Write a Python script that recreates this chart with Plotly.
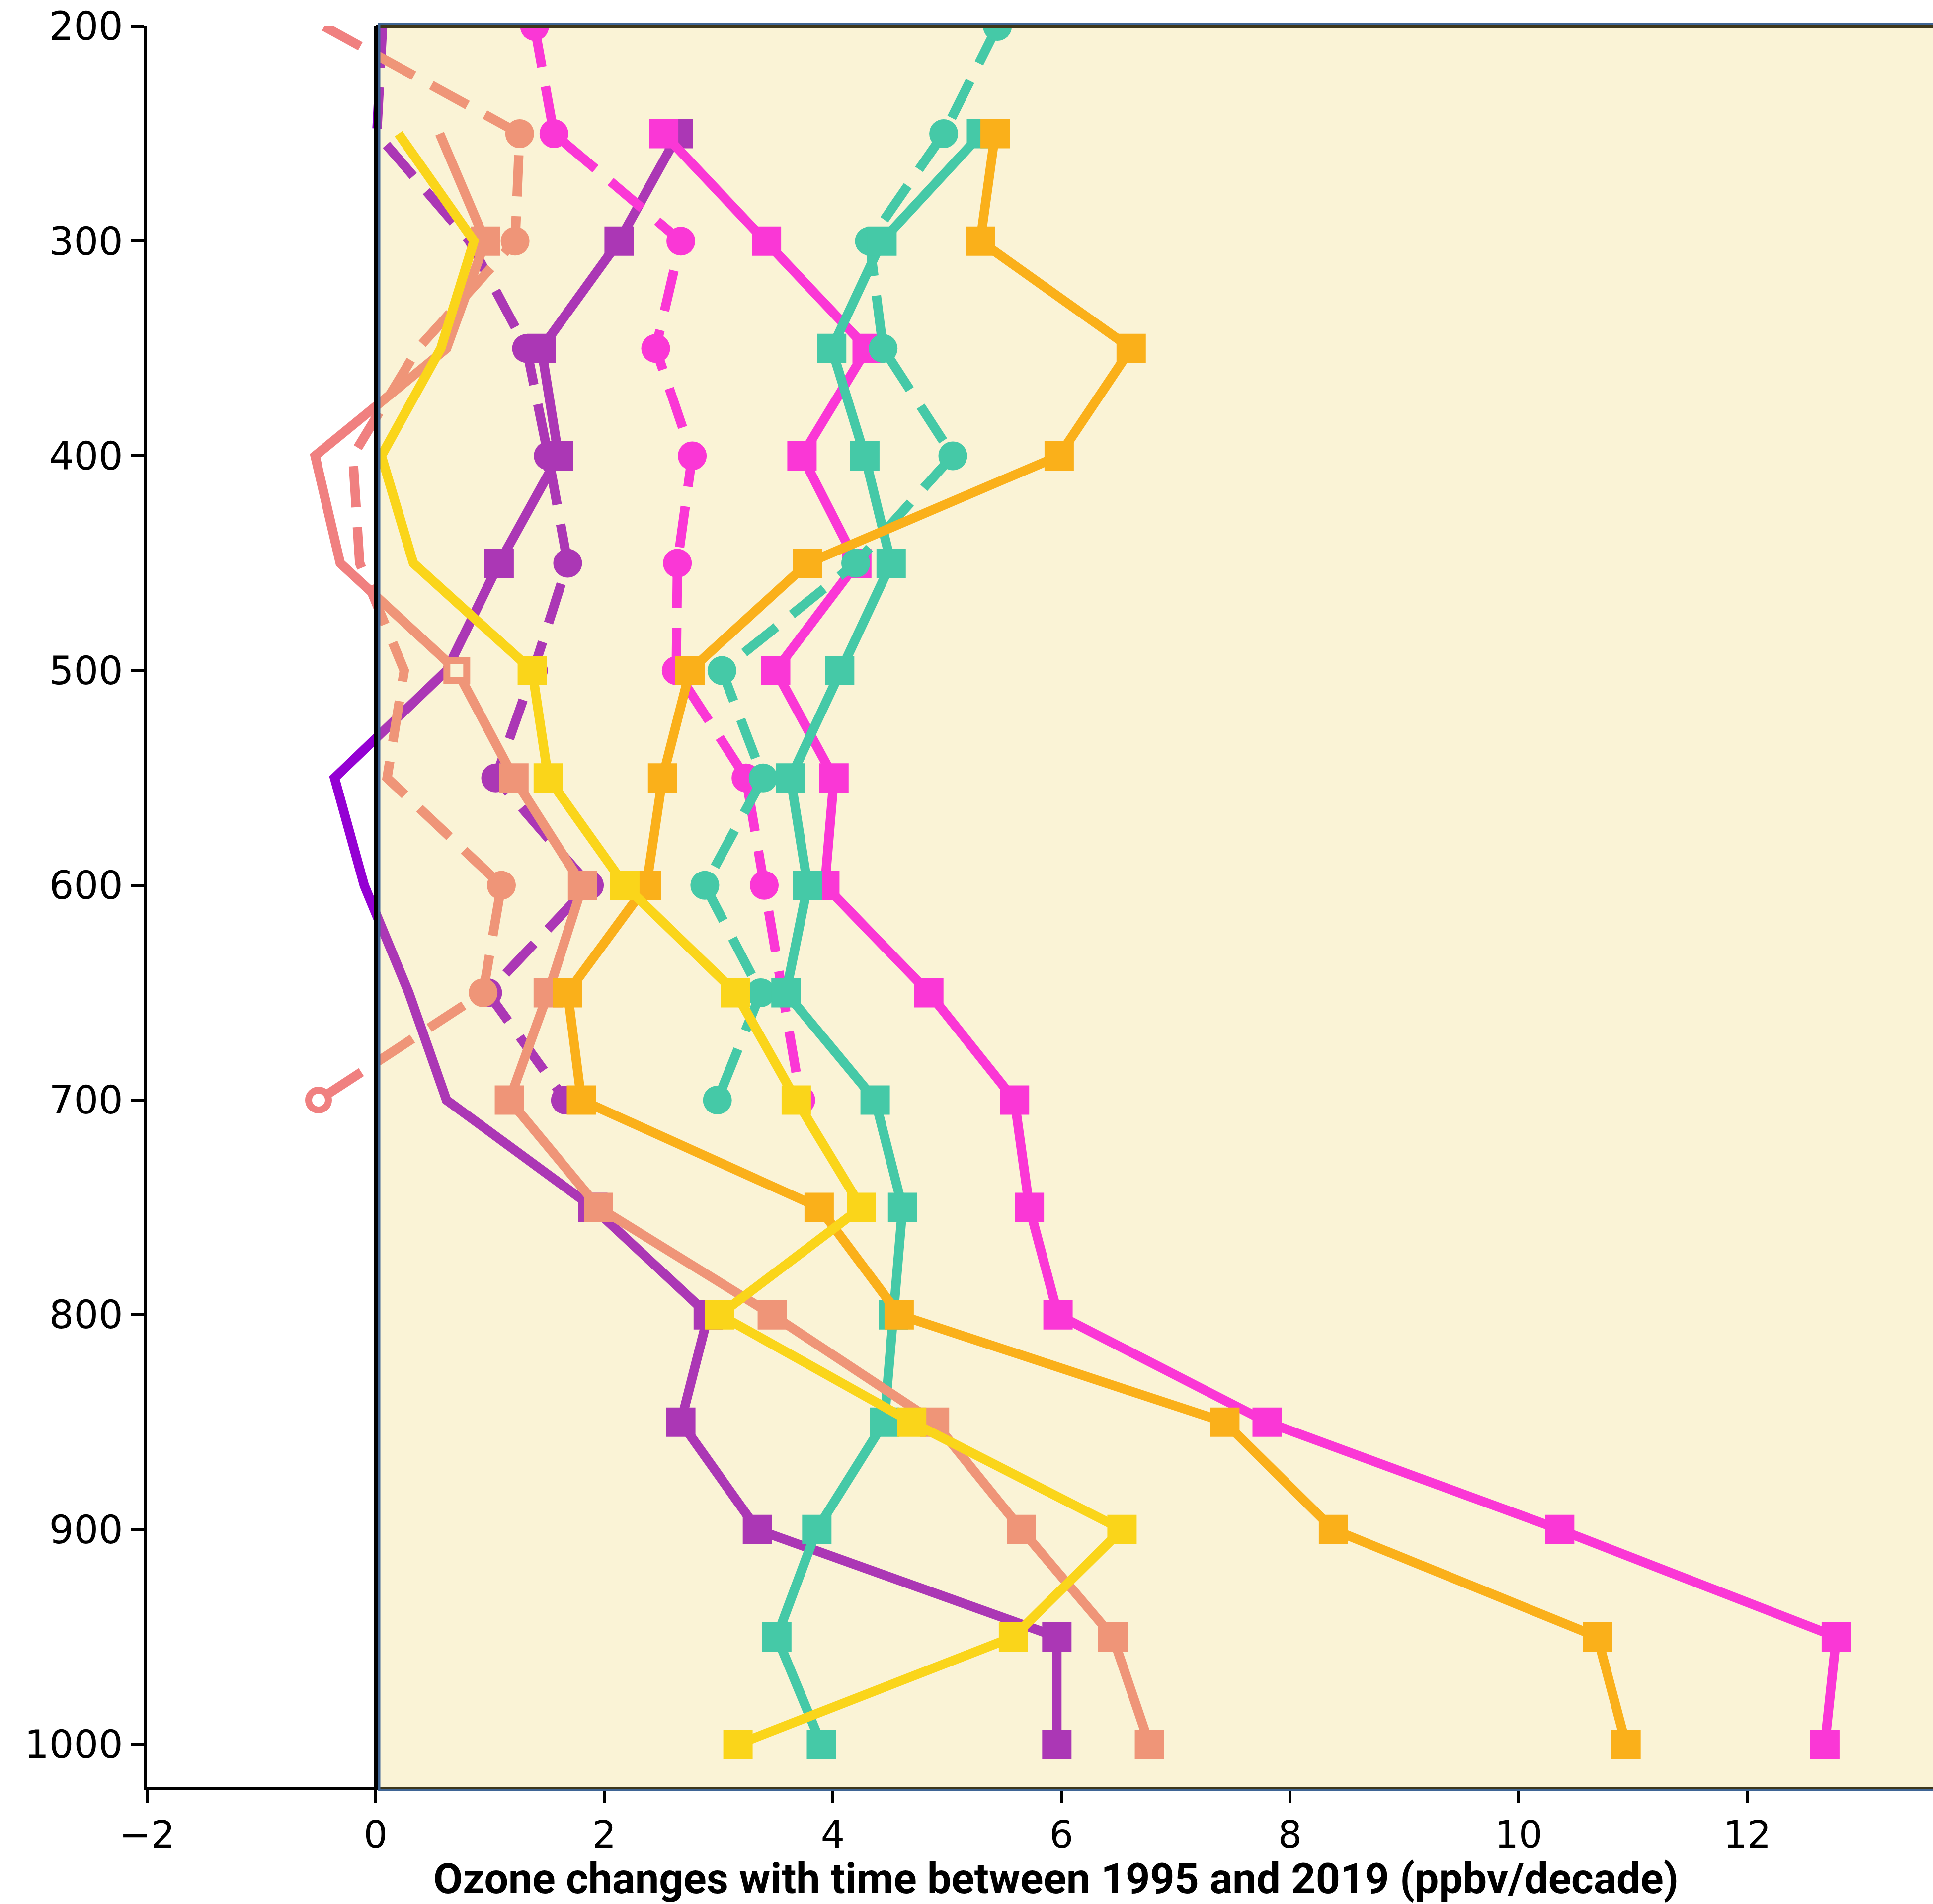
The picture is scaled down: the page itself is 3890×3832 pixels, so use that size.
import plotly.graph_objects as go

# ---------------- data ----------------
P_SOLID = [250, 300, 350, 400, 450, 500, 550, 600, 650, 700, 750, 800, 850, 900, 950, 1000]
P_DASHED = [200, 250, 300, 350, 400, 450, 500, 550, 600, 650, 700]

# flags: 1 = filled marker, 0 = no marker, 2 = open marker
magenta_solid = [2.52, 3.42, 4.30, 3.73, 4.21, 3.50, 4.01, 3.93, 4.84, 5.59, 5.72, 5.97, 7.80, 10.36, 12.78, 12.68]
magenta_solid_flag = [1, 1, 1, 1, 1, 1, 1, 1, 1, 1, 1, 1, 1, 1, 1, 1]
magenta_dashed = [1.39, 1.56, 2.67, 2.45, 2.77, 2.64, 2.63, 3.24, 3.40, 3.56, 3.72]
magenta_dashed_flag = [1, 1, 1, 1, 1, 1, 1, 1, 1, 1, 1]

teal_solid = [5.30, 4.43, 3.99, 4.28, 4.51, 4.06, 3.63, 3.78, 3.59, 4.37, 4.61, 4.53, 4.45, 3.86, 3.51, 3.90]
teal_solid_flag = [1, 1, 1, 1, 1, 1, 1, 1, 1, 1, 1, 1, 1, 1, 1, 1]
teal_dashed = [5.44, 4.97, 4.32, 4.44, 5.05, 4.20, 3.03, 3.39, 2.88, 3.37, 2.99]
teal_dashed_flag = [1, 1, 1, 1, 1, 1, 1, 1, 1, 1, 1]

orange_solid = [5.42, 5.29, 6.61, 5.98, 3.78, 2.75, 2.51, 2.37, 1.68, 1.80, 3.88, 4.58, 7.43, 8.38, 10.69, 10.94]
orange_solid_flag = [1, 1, 1, 1, 1, 1, 1, 1, 1, 1, 1, 1, 1, 1, 1, 1]

gold_solid = [0.20, 0.86, 0.57, 0.05, 0.33, 1.37, 1.51, 2.18, 3.15, 3.68, 4.25, 3.01, 4.69, 6.53, 5.58, 3.17]
gold_solid_flag = [0, 0, 0, 0, 0, 1, 1, 1, 1, 1, 1, 1, 1, 1, 1, 1]

purple_solid = [2.65, 2.13, 1.45, 1.60, 1.08, 0.62, -0.36, -0.10, 0.29, 0.62, 1.90, 2.91, 2.67, 3.34, 5.96, 5.96]
purple_solid_flag = [1, 1, 1, 1, 1, 0, 0, 0, 0, 0, 1, 1, 1, 1, 1, 1]
purple_dashed = [0.06, 0.01, 0.82, 1.32, 1.51, 1.68, 1.38, 1.05, 1.87, 0.98, 1.66]
purple_dashed_flag = [0, 0, 0, 1, 1, 1, 1, 1, 1, 1, 1]

salmon_solid = [0.56, 0.96, 0.62, -0.53, -0.31, 0.71, 1.21, 1.81, 1.51, 1.17, 1.95, 3.47, 4.89, 5.65, 6.45, 6.77]
salmon_solid_flag = [0, 1, 0, 0, 0, 2, 1, 1, 1, 1, 1, 1, 1, 1, 1, 1]
salmon_dashed = [-0.45, 1.26, 1.22, 0.37, -0.20, -0.14, 0.25, 0.10, 1.10, 0.94, -0.50]
salmon_dashed_flag = [0, 1, 1, 0, 0, 0, 0, 0, 1, 1, 2]

X_TICKS = [-2, 0, 2, 4, 6, 8, 10, 12]
X_TICK_TEXT = ["\u22122", "0", "2", "4", "6", "8", "10", "12"]
Y_TICKS = [200, 300, 400, 500, 600, 700, 800, 900, 1000]
X_TITLE = "Ozone changes with time between 1995 and 2019 (ppbv/decade)"

# ---------------- styles ----------------
PURPLE = "#9400D3"
MAGENTA = "#FF00FF"
TEAL = "#0AC6BF"
SALMON = "#F08080"
ORANGE = "#FFA500"
GOLD = "#FFD700"

LW = 19
DASH = "83px,40px"

series = [
    (purple_dashed, purple_dashed_flag, P_DASHED, PURPLE, DASH, "circle"),
    (purple_solid, purple_solid_flag, P_SOLID, PURPLE, "solid", "square"),
    (magenta_dashed, magenta_dashed_flag, P_DASHED, MAGENTA, DASH, "circle"),
    (magenta_solid, magenta_solid_flag, P_SOLID, MAGENTA, "solid", "square"),
    (teal_dashed, teal_dashed_flag, P_DASHED, TEAL, DASH, "circle"),
    (teal_solid, teal_solid_flag, P_SOLID, TEAL, "solid", "square"),
    (salmon_dashed, salmon_dashed_flag, P_DASHED, SALMON, DASH, "circle"),
    (salmon_solid, salmon_solid_flag, P_SOLID, SALMON, "solid", "square"),
    (orange_solid, orange_solid_flag, P_SOLID, ORANGE, "solid", "square"),
    (gold_solid, gold_solid_flag, P_SOLID, GOLD, "solid", "square"),
]

fig = go.Figure()
for vals, flags, pres, color, dash, sym in series:
    sizes, fills, lcols, lws = [], [], [], []
    for f in flags:
        if f == 1:
            sizes.append(59 if sym == "square" else 58)
            fills.append(color)
            lcols.append(color)
            lws.append(0)
        elif f == 2:
            sizes.append(40)
            fills.append("white")
            lcols.append(color)
            lws.append(14)
        else:
            sizes.append(0)
            fills.append(color)
            lcols.append(color)
            lws.append(0)
    fig.add_trace(go.Scatter(
        x=vals, y=pres, mode="lines+markers",
        line=dict(color=color, width=LW, dash=dash),
        marker=dict(symbol=sym, size=sizes, color=fills, opacity=1,
                    line=dict(color=lcols, width=lws)),
        showlegend=False, hoverinfo="skip",
    ))

W, H = 3890, 3832
ML, MR, MT, MB = 296, 0, 53, 235
PX_PER_UNIT = 230.0

fig.update_layout(
    width=W, height=H,
    margin=dict(l=ML, r=MR, t=MT, b=MB, pad=0),
    paper_bgcolor="white", plot_bgcolor="white",
    font=dict(family="DejaVu Sans", color="black"),
    xaxis=dict(
        range=[-2, -2 + (W - ML - MR) / PX_PER_UNIT],
        tickmode="array", tickvals=X_TICKS, ticktext=X_TICK_TEXT,
        ticks="outside", ticklen=25, tickwidth=5.5, tickcolor="black",
        showline=True, linewidth=5.5, linecolor="black",
        showgrid=False, zeroline=False,
        tickfont=dict(family="DejaVu Sans", size=76, color="black"),
    ),
    yaxis=dict(
        range=[1020, 200],
        tickmode="array", tickvals=Y_TICKS,
        ticks="outside", ticklen=27, tickwidth=5.5, tickcolor="black",
        showline=True, linewidth=5.5, linecolor="black",
        showgrid=False, zeroline=False,
        tickfont=dict(family="DejaVu Sans", size=78, color="black"),
    ),
)

PH = H - MT - MB
x0_px = ML + 2 * PX_PER_UNIT  # pixel of x = 0

# top dark line (appears under the overlay)
fig.add_shape(type="line", xref="x", yref="paper", x0=0, x1=14, y0=1, y1=1,
              line=dict(color="black", width=6), layer="above")
# translucent yellow overlay over the positive region
fig.add_shape(type="rect", xref="paper", yref="paper",
              x0=(x0_px + 7 - ML) / (W - ML), x1=1.01,
              y0=-5.5 / PH, y1=1 + 4.5 / PH,
              fillcolor="rgba(236,209,99,0.263)",
              line=dict(color="#3F6595", width=5), layer="above")
# black zero line
fig.add_shape(type="line", xref="x", yref="paper", x0=0, x1=0, y0=0, y1=1,
              line=dict(color="black", width=8), layer="above")

# x-axis title
fig.add_annotation(
    text="<b>" + X_TITLE + "</b>", xref="paper", yref="paper",
    x=(2125 - ML) / (W - ML), y=((H - MB) - 3781) / PH,
    xanchor="center", yanchor="middle", showarrow=False,
    font=dict(family="Roboto", size=86, color="black"),
)

fig.write_html(
    "out.html",
    config={"displayModeBar": False},
    post_script="document.body.style.margin='0';document.body.style.overflow='hidden';",
)
